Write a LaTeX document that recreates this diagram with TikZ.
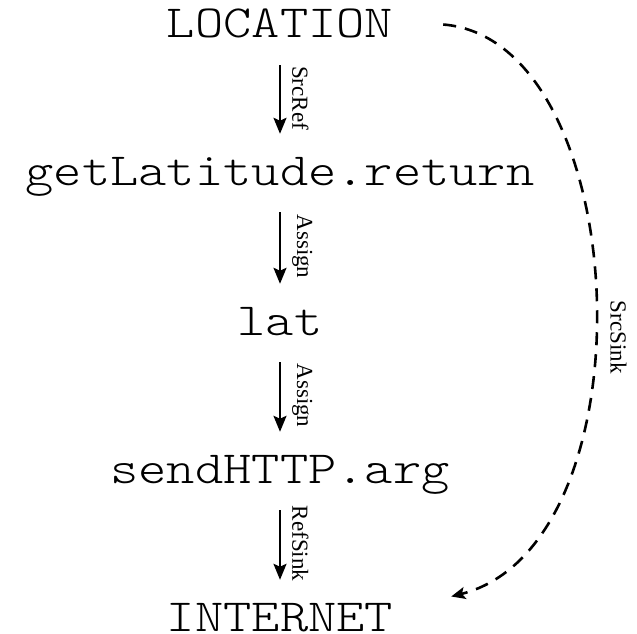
\documentclass[tikz,border=0pt]{standalone}
\usepackage{fontspec}
\setmainfont{Liberation Serif}
\newfontfamily\codefont[FakeStretch=1.17]{Latin Modern Mono Light}
\usetikzlibrary{arrows.meta}
\begin{document}
\begin{tikzpicture}[x=1pt,y=1pt,
  code/.style={font=\codefont\fontsize{46}{46}\selectfont, anchor=base,
    inner sep=0pt, text height=27pt, text depth=0pt},
  flow/.style={line width=2.4pt, -{Stealth[length=16pt,width=13pt,inset=3pt]},
    shorten <=27pt, shorten >=24pt},
  leak/.style={line width=2.6pt, dash pattern=on 13pt off 9pt,
    -{Stealth[length=14pt,width=12pt,inset=3pt]}},
  edgelabel/.style={font=\fontsize{23}{23}\selectfont, anchor=south,
    rotate=-90, inner xsep=0pt, inner ysep=11pt}]
  \useasboundingbox (0,0) rectangle (637,-634);

  % chain of values
  \node[code] (loc)  at (280,-38)  {LOCATION};
  \node[code] (glr)  at (280,-185) {getLatitude.return};
  \node[code] (lat)  at (280,-335) {lat};
  \node[code] (send) at (280,-483) {sendHTTP.arg};
  \node[code] (inet) at (280,-631) {INTERNET};

  % direct flow edges
  \draw[flow] (loc.south)  -- node[midway, edgelabel] {SrcRef}  (glr.north);
  \draw[flow] (glr.south)  -- node[midway, edgelabel] {Assign}  (lat.north);
  \draw[flow] (lat.south)  -- node[midway, edgelabel] {Assign}  (send.north);
  \draw[flow] (send.south) -- node[midway, edgelabel] {RefSink} (inet.north);

  % source-to-sink summary edge
  \coordinate (srcend)  at ([xshift=50pt]loc.east);
  \coordinate (sinkend) at ([xshift=58pt,yshift=21pt]inet.east);
  \draw[leak] (srcend) .. controls (635,-40) and (655,-545) .. (sinkend)
    node[pos=0.55, edgelabel, inner ysep=14pt] {SrcSink};
\end{tikzpicture}
\end{document}
